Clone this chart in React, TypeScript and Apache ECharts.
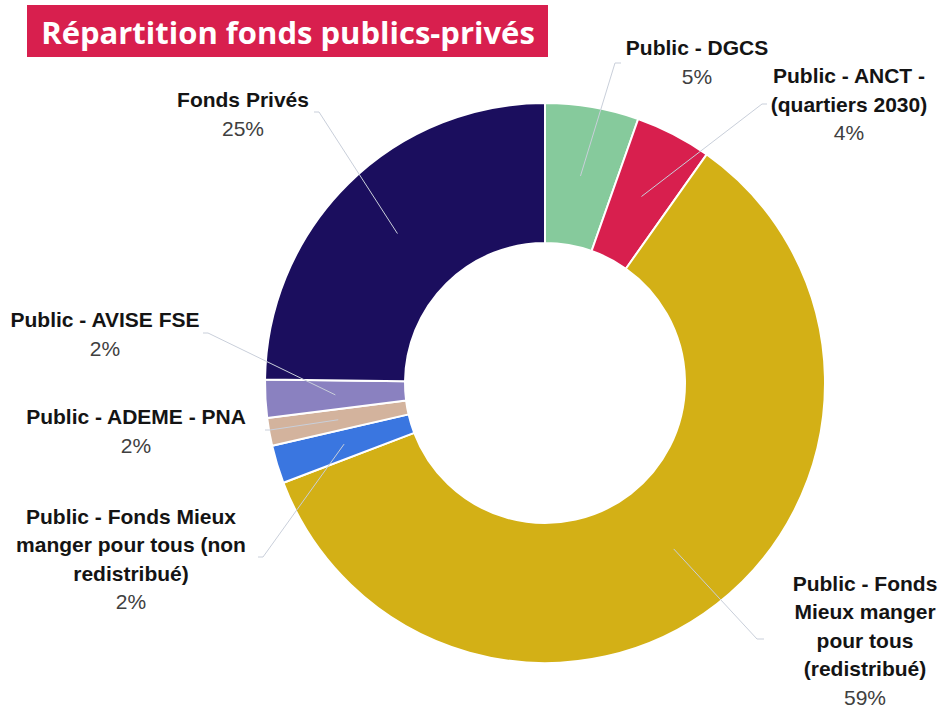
import React, { useEffect, useRef } from "react";
import * as echarts from "echarts";

const TITLE = "Répartition fonds publics-privés";
const CATEGORIES = [
  "Public - DGCS",
  "Public - ANCT - (quartiers 2030)",
  "Public - Fonds Mieux manger pour tous (redistribué)",
  "Public - Fonds Mieux manger pour tous (non redistribué)",
  "Public - ADEME - PNA",
  "Public - AVISE FSE",
  "Fonds Privés",
];
const LABEL_LINES = [
  ["Public - DGCS"],
  ["Public - ANCT -", "(quartiers 2030)"],
  ["Public - Fonds", "Mieux manger", "pour tous", "(redistribué)"],
  ["Public - Fonds Mieux", "manger pour tous (non", "redistribué)"],
  ["Public - ADEME - PNA"],
  ["Public - AVISE FSE"],
  ["Fonds Privés"],
];
const VALUES = [5.4, 4.4, 59.4, 2.2, 1.6, 2.2, 24.8];
const COLORS = ["#86CA9C", "#D81F4E", "#D3B016", "#3A76E0", "#D3B39D", "#8A81C0", "#1B0E5E"];

// layout
const CX = 545;
const CY = 383;
const R_IN = 140;
const R_OUT = 280;
const R_LINE = 210;
const LABEL_POS = [
  [697, 62],
  [849, 104],
  [865, 640],
  [131, 559],
  [136, 431],
  [105, 334],
  [243, 114],
];
const LINE_ELBOW = [
  [615, 63],
  [762, 104],
  [757, 639],
  [263, 557],
  [270, 430],
  [208, 333],
  [319, 112],
];
const LINE_END = [
  [621, 63],
  [767, 104],
  [764, 639],
  [258, 557],
  [265, 430],
  [203, 333],
  [314, 112],
];

export default function App() {
  const ref = useRef<HTMLDivElement>(null);
  useEffect(() => {
    if (!ref.current) return;
    const chart = echarts.init(ref.current, null, { renderer: "svg" });
    const total = VALUES.reduce((a, b) => a + b, 0);
    let acc = 0;
    const mids = VALUES.map((v) => {
      const m = ((acc + v / 2) / total) * Math.PI * 2;
      acc += v;
      return m;
    });
    const lines = mids.map((m, i) => ({
      type: "polyline",
      z: 100,
      silent: true,
      shape: {
        points: [
          [CX + R_LINE * Math.sin(m), CY - R_LINE * Math.cos(m)],
          LINE_ELBOW[i],
          LINE_END[i],
        ],
      },
      style: { stroke: "#C9CFDA", lineWidth: 1, fill: null },
    }));
    const font = '"Liberation Sans", Arial, sans-serif';
    chart.setOption({
      animation: false,
      backgroundColor: "#ffffff",
      graphic: [
        {
          type: "rect",
          shape: { x: 27, y: 5, width: 521, height: 52 },
          style: { fill: "#D81F4E" },
          z: 100,
        },
        {
          type: "text",
          x: 288,
          y: 32,
          z: 101,
          style: {
            text: TITLE,
            fill: "#ffffff",
            font: 'bold 31px "Open Sans", sans-serif',
            textAlign: "center",
            textVerticalAlign: "middle",
          },
        },
        ...lines,
      ],
      series: [
        {
          type: "pie",
          center: [CX, CY],
          radius: [R_IN, R_OUT],
          startAngle: 90,
          clockwise: true,
          avoidLabelOverlap: false,
          itemStyle: { borderColor: "#ffffff", borderWidth: 2 },
          data: CATEGORIES.map((c, i) => ({
            name: c,
            value: VALUES[i],
            itemStyle: { color: COLORS[i] },
          })),
          label: {
            show: true,
            position: "outside",
            fontFamily: font,
            formatter: (p: any) => {
              const pct = Math.round((p.value / total) * 100);
              return (
                LABEL_LINES[p.dataIndex].map((l) => `{n|${l}}`).join("\n") +
                `\n{p|${pct}%}`
              );
            },
            rich: {
              n: {
                fontFamily: font,
                fontWeight: "bold",
                fontSize: 21,
                lineHeight: 28.5,
                color: "#141414",
                align: "center",
              },
              p: {
                fontFamily: font,
                fontSize: 21,
                lineHeight: 28.5,
                color: "#404040",
                align: "center",
              },
            },
          },
          labelLine: { show: false },
          labelLayout: (params: any) => ({
            x: LABEL_POS[params.dataIndex][0],
            y: LABEL_POS[params.dataIndex][1],
            align: "center",
            verticalAlign: "middle",
          }),
        },
      ],
    });
    return () => chart.dispose();
  }, []);
  return (
    <div
      ref={ref}
      style={{ position: "absolute", left: 0, top: 0, width: 941, height: 709 }}
    />
  );
}
